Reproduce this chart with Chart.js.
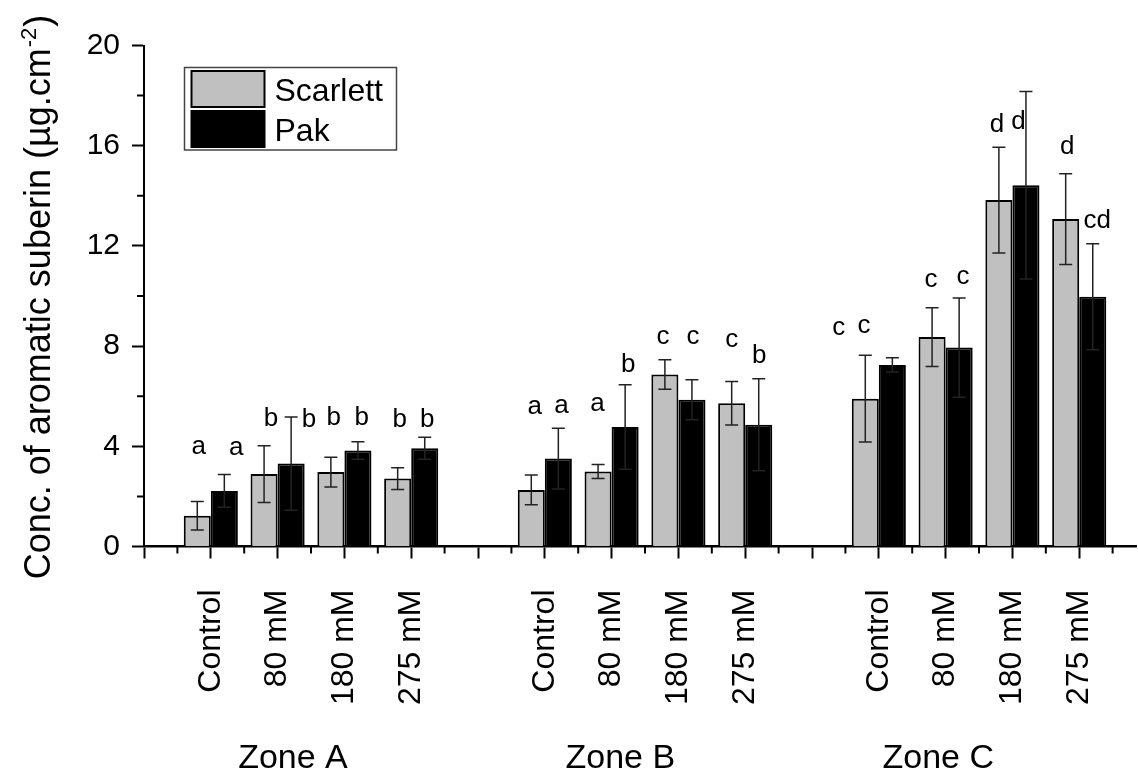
<!DOCTYPE html>
<html>
<head>
<meta charset="utf-8">
<script src="https://cdn.jsdelivr.net/npm/chart.js@4.4.1/dist/chart.umd.min.js"></script>
<style>
  html, body { margin: 0; padding: 0; background: #fff; }
  #wrap { width: 1138px; height: 771px; }
</style>
</head>
<body>
<div id="wrap"><canvas id="chart" width="1138" height="771"></canvas></div>
<script>
// Root zones and NaCl treatments
const zones = ['Zone A', 'Zone B', 'Zone C'];
const treatments = ['Control', '80 mM', '180 mM', '275 mM'];

// Aromatic suberin (µg.cm-2), ordered zone by zone, treatment by treatment
const scarlettMean = [1.23, 2.89, 2.97, 2.71, 2.26, 2.99, 6.87, 5.72, 5.90, 8.36, 13.83, 13.07];
const scarlettSD   = [0.57, 1.13, 0.59, 0.43, 0.59, 0.28, 0.59, 0.87, 1.73, 1.17, 2.11, 1.81];
const pakMean      = [2.22, 3.31, 3.83, 3.92, 3.51, 4.77, 5.86, 4.86, 7.25, 7.94, 14.42, 9.97];
const pakSD        = [0.65, 1.86, 0.35, 0.44, 1.21, 1.69, 0.80, 1.84, 0.28, 1.98, 3.74, 2.12];

// Significance letters
const scarlettLetters = ['a', 'b', 'b', 'b', 'a', 'a', 'c', 'c', 'c', 'c', 'd', 'd'];
const pakLetters      = ['a', 'b', 'b', 'b', 'a', 'b', 'c', 'b', 'c', 'c', 'd', 'cd'];

// Where each letter sits, as [x slot, y value] on the chart's own axes
const scarlettLetterAt = [[0.82, 3.69], [1.90, 4.82], [2.84, 4.85], [3.83, 4.77],
                          [5.85, 5.29], [6.79, 5.41], [7.77, 8.08], [8.80, 7.96],
                          [10.40, 8.44], [11.78, 10.37], [12.77, 16.56], [13.82, 15.67]];
const pakLetterAt      = [[1.38, 3.65], [2.47, 4.77], [3.26, 4.85], [4.24, 4.77],
                          [6.25, 5.34], [7.25, 6.98], [8.22, 8.08], [9.21, 7.33],
                          [10.78, 8.52], [12.26, 10.48], [13.09, 16.65], [14.27, 12.71]];

// Zone captions, centred on these x slots
const zoneLabelAt = [2.23, 7.13, 11.89];

const FONT = "'Liberation Sans', Arial, Helvetica, sans-serif";
const GREY = '#C0C0C0';

// Each treatment gets one slot; an empty slot separates the zones
const SLOTS_PER_ZONE = 5;
const slotOf = [];
zones.forEach((z, zi) => treatments.forEach((t, ti) => slotOf.push(zi * SLOTS_PER_ZONE + ti + 1)));

const errorBars = {
  id: 'errorBars',
  afterDatasetsDraw(chart) {
    const ctx = chart.ctx;
    const y = chart.scales.y;
    const sds = [scarlettSD, pakSD];
    const means = [scarlettMean, pakMean];
    ctx.save();
    ctx.strokeStyle = '#222';
    ctx.lineWidth = 1.5;
    chart.data.datasets.forEach((ds, di) => {
      chart.getDatasetMeta(di).data.forEach((bar, i) => {
        const top = y.getPixelForValue(means[di][i] + sds[di][i]);
        const bot = y.getPixelForValue(means[di][i] - sds[di][i]);
        const cap = 6.5;
        ctx.beginPath();
        ctx.moveTo(bar.x, top); ctx.lineTo(bar.x, bot);
        ctx.moveTo(bar.x - cap, top); ctx.lineTo(bar.x + cap, top);
        ctx.moveTo(bar.x - cap, bot); ctx.lineTo(bar.x + cap, bot);
        ctx.stroke();
      });
    });
    ctx.restore();
  }
};

const annotations = {
  id: 'annotations',
  afterDraw(chart) {
    const ctx = chart.ctx;
    const xs = chart.scales.x, ys = chart.scales.y;
    const area = chart.chartArea;
    ctx.save();

    // significance letters
    ctx.fillStyle = '#000';
    ctx.font = '26px ' + FONT;
    ctx.textAlign = 'center';
    ctx.textBaseline = 'alphabetic';
    [[scarlettLetters, scarlettLetterAt], [pakLetters, pakLetterAt]].forEach(([letters, at]) => {
      letters.forEach((l, i) => {
        ctx.fillText(l, xs.getPixelForValue(at[i][0]), ys.getPixelForValue(at[i][1]));
      });
    });

    // minor tick marks
    ctx.strokeStyle = '#000';
    ctx.lineWidth = 2;
    ctx.beginPath();
    for (let v = 0.5; v < xs.max; v += 1) {
      const px = xs.getPixelForValue(v);
      ctx.moveTo(px, area.bottom); ctx.lineTo(px, area.bottom + 7);
    }
    for (let v = 2; v < ys.max; v += 4) {
      const py = ys.getPixelForValue(v);
      ctx.moveTo(area.left - 7, py); ctx.lineTo(area.left, py);
    }
    ctx.stroke();

    // zone captions
    ctx.font = '34px ' + FONT;
    ctx.textAlign = 'center';
    zones.forEach((z, i) => ctx.fillText(z, xs.getPixelForValue(zoneLabelAt[i]), 768));

    // y axis title with superscript unit
    const main = 'Conc. of aromatic suberin (\u00B5g.cm';
    const sup = '-2';
    const tail = ')';
    const fMain = '36px ' + FONT, fSup = '22px ' + FONT;
    ctx.font = fMain;
    const w1 = ctx.measureText(main).width, w3 = ctx.measureText(tail).width;
    ctx.font = fSup;
    const w2 = ctx.measureText(sup).width;
    const total = w1 + w2 + w3;
    const cy = (area.top + area.bottom) / 2 + 2;
    ctx.save();
    ctx.translate(50, cy + total / 2);
    ctx.rotate(-Math.PI / 2);
    ctx.textAlign = 'left';
    ctx.font = fMain; ctx.fillText(main, 0, 0);
    ctx.font = fSup; ctx.fillText(sup, w1 + 1, -14);
    ctx.font = fMain; ctx.fillText(tail, w1 + w2 + 2, 0);
    ctx.restore();

    // legend box
    const lx = area.left + 40.5, ly = area.top + 22;
    ctx.lineWidth = 1.5;
    ctx.strokeStyle = '#444';
    ctx.strokeRect(lx, ly, 212, 82.5);
    chart.data.datasets.forEach((ds, di) => {
      const sy = ly + 3.5 + di * 40;
      ctx.fillStyle = ds.backgroundColor;
      ctx.fillRect(lx + 7, sy, 73, 36);
      ctx.lineWidth = 2;
      ctx.strokeStyle = '#000';
      ctx.strokeRect(lx + 7, sy, 73, 36);
      ctx.fillStyle = '#000';
      ctx.font = '32px ' + FONT;
      ctx.textAlign = 'left';
      ctx.fillText(ds.label, lx + 90, sy + 29.5);
    });
    ctx.restore();
  }
};

new Chart(document.getElementById('chart'), {
  type: 'bar',
  data: {
    datasets: [
      {
        label: 'Scarlett',
        data: scarlettMean.map((v, i) => ({ x: slotOf[i], y: v })),
        backgroundColor: GREY,
        borderColor: '#000',
        borderWidth: 2
      },
      {
        label: 'Pak',
        data: pakMean.map((v, i) => ({ x: slotOf[i], y: v })),
        backgroundColor: '#000',
        borderColor: '#000',
        borderWidth: 2
      }
    ]
  },
  options: {
    responsive: false,
    animation: false,
    devicePixelRatio: 1,
    categoryPercentage: 0.81,
    barPercentage: 1,
    layout: { padding: { top: 45.5, right: 2, bottom: 0, left: 0 } },
    plugins: { legend: { display: false }, title: { display: false }, tooltip: { enabled: false } },
    scales: {
      x: {
        type: 'linear',
        offset: false,
        min: 0,
        max: 14.85,
        afterBuildTicks: s => { s.ticks = []; for (let v = 0; v <= 14; v++) s.ticks.push({ value: v }); },
        afterFit: s => { s.height = 224.5; s.paddingLeft = 0; s.paddingRight = 0; },
        border: { display: true, color: '#000', width: 2.5 },
        grid: { display: true, offset: false, drawOnChartArea: false, drawTicks: true, tickLength: 12, tickWidth: 2, tickColor: '#000' },
        ticks: {
          autoSkip: false,
          minRotation: 90,
          maxRotation: 90,
          padding: 31,
          color: '#000',
          font: { family: FONT, size: 32 },
          callback: v => (v % SLOTS_PER_ZONE === 0 ? '' : treatments[v % SLOTS_PER_ZONE - 1])
        }
      },
      y: {
        min: 0,
        max: 20,
        afterFit: s => { s.width = 144; },
        border: { display: true, color: '#000', width: 2 },
        grid: {
          display: true, drawOnChartArea: false, drawTicks: true, tickLength: 12, tickWidth: 2,
          tickColor: c => (c.tick && c.tick.value % 4 === 0 ? '#000' : 'rgba(0,0,0,0)')
        },
        ticks: {
          stepSize: 2,
          padding: 12,
          color: '#000',
          font: { family: FONT, size: 30 },
          callback: v => (v % 4 === 0 ? String(v) : '')
        }
      }
    }
  },
  plugins: [errorBars, annotations]
});
</script>
</body>
</html>
